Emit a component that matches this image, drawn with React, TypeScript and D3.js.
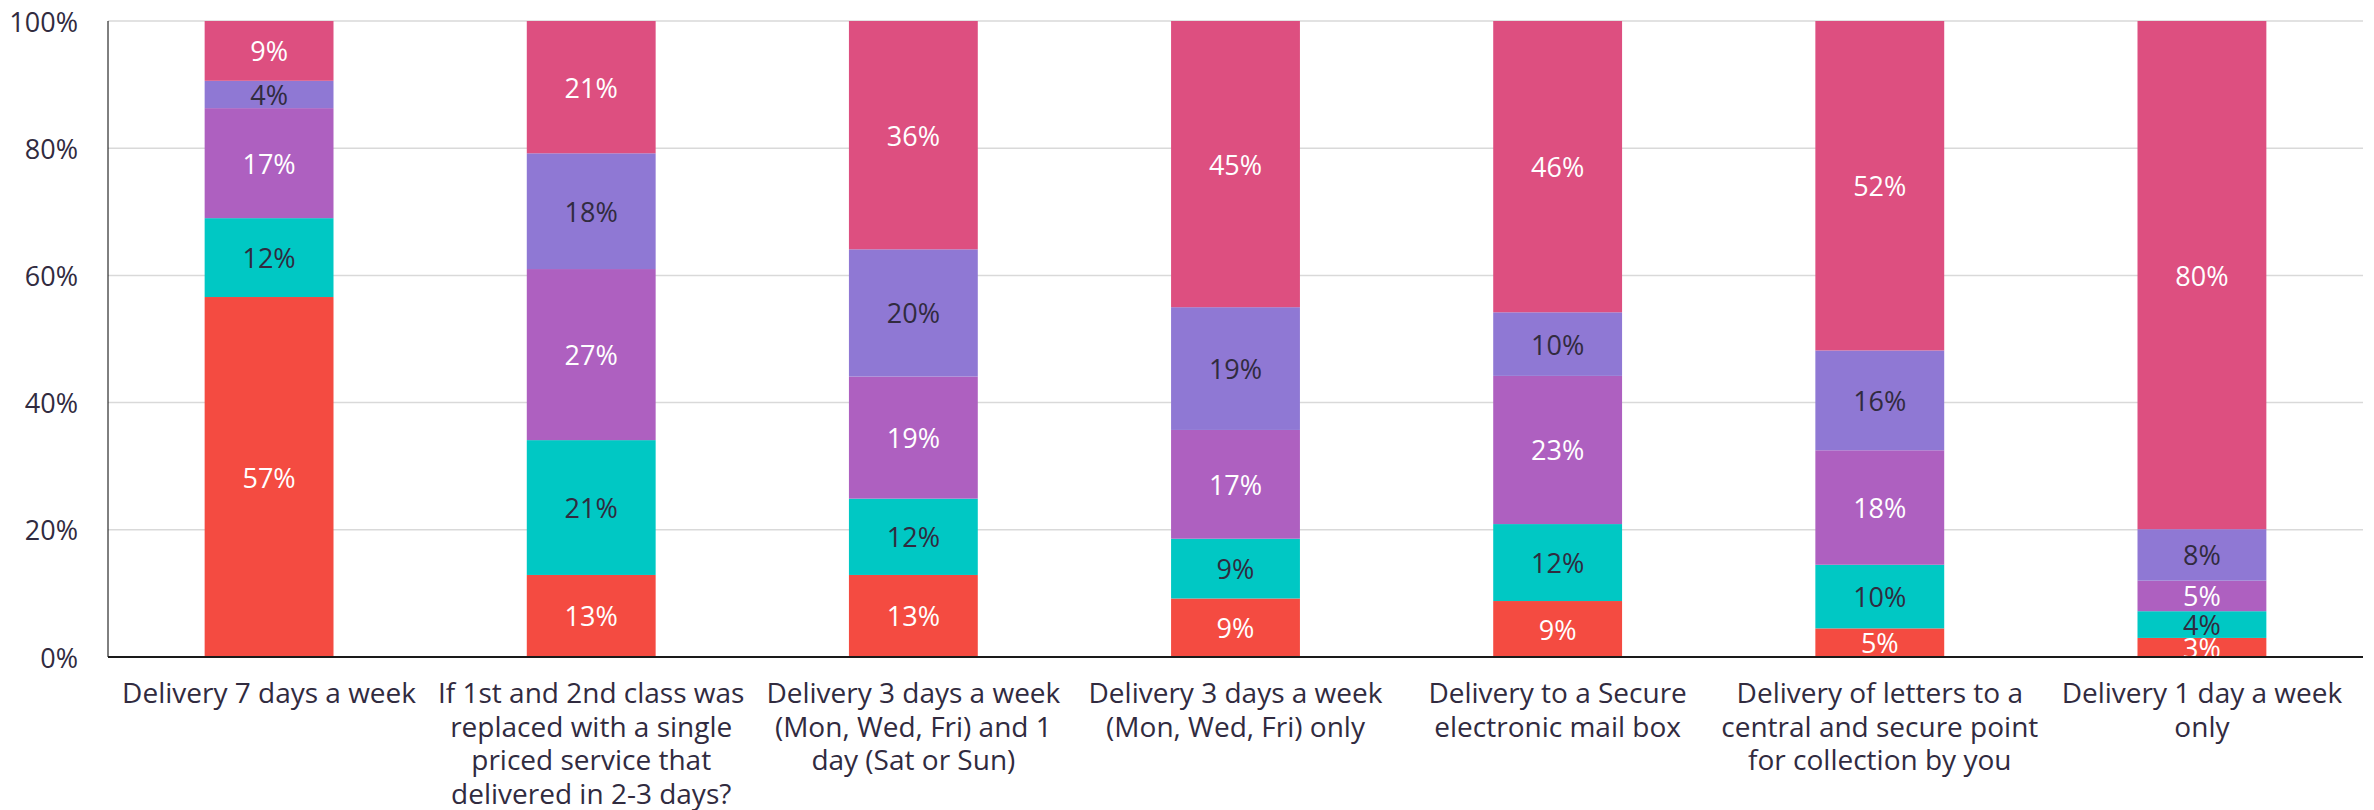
import React from "react";
import * as d3 from "d3";

// category labels, already broken into lines as in the source
const categories = [
  ["Delivery 7 days a week"],
  ["If 1st and 2nd class was", "replaced with a single", "priced service that", "delivered in 2-3 days?"],
  ["Delivery 3 days a week", "(Mon, Wed, Fri) and 1", "day (Sat or Sun)"],
  ["Delivery 3 days a week", "(Mon, Wed, Fri) only"],
  ["Delivery to a Secure", "electronic mail box"],
  ["Delivery of letters to a", "central and secure point", "for collection by you"],
  ["Delivery 1 day a week", "only"],
];

// stacked shares (%) bottom to top
const red = [56.6, 12.9, 12.9, 9.2, 8.8, 4.5, 3.0];
const teal = [12.4, 21.2, 12.0, 9.4, 12.1, 10.0, 4.2];
const purple = [17.3, 26.9, 19.2, 17.1, 23.3, 18.0, 4.8];
const lavender = [4.3, 18.2, 20.0, 19.3, 10.0, 15.7, 8.1];
const pink = [9.4, 20.8, 35.9, 45.0, 45.8, 51.8, 79.9];

const yTicks = [0, 20, 40, 60, 80, 100];

const seriesKeys = ["red", "teal", "purple", "lavender", "pink"];
const colors = ["#F44B41", "#00C8C4", "#AE60C0", "#8F78D4", "#DD4F80"];
const labelColors = ["#ffffff", "#312B3F", "#ffffff", "#312B3F", "#ffffff"];

const width = 2374;
const height = 810;
const margin = { top: 21, right: 11, bottom: 153, left: 108 };
const font = "'Open Sans', sans-serif";

export default function App() {
  const rows = categories.map((c, i) => ({
    idx: i,
    red: red[i],
    teal: teal[i],
    purple: purple[i],
    lavender: lavender[i],
    pink: pink[i],
  }));

  const stack = d3.stack<any>().keys(seriesKeys)(rows);

  const x = d3
    .scaleBand<number>()
    .domain(categories.map((_, i) => i))
    .range([margin.left, width - margin.right])
    .paddingInner(0.6)
    .paddingOuter(0.3);

  const y = d3
    .scaleLinear()
    .domain([0, 100])
    .range([height - margin.bottom, margin.top]);

  return (
    <svg
      width={width}
      height={height}
      style={{ position: "absolute", left: 0, top: 0, background: "#fff" }}
      fontFamily={font}
    >
      {/* gridlines */}
      {yTicks.map((t) => (
        <line
          key={"g" + t}
          x1={margin.left}
          x2={width - margin.right}
          y1={y(t)}
          y2={y(t)}
          stroke="#D9D9D9"
          strokeWidth={1.5}
        />
      ))}

      {/* y tick labels */}
      {yTicks.map((t) => (
        <text
          key={"t" + t}
          x={margin.left - 30}
          y={y(t)}
          textAnchor="end"
          dominantBaseline="central"
          fontSize={27}
          fill="#312B3F"
        >
          {t}%
        </text>
      ))}

      {/* bars */}
      {stack.map((s, si) => (
        <g key={s.key} fill={colors[si]}>
          {s.map((d, i) => (
            <rect
              key={i}
              x={x(i)}
              y={y(d[1])}
              width={x.bandwidth()}
              height={y(d[0]) - y(d[1])}
            />
          ))}
        </g>
      ))}

      {/* value labels */}
      {stack.map((s, si) => (
        <g key={"l" + s.key} fill={labelColors[si]} fontSize={27} textAnchor="middle">
          {s.map((d, i) => (
            <text
              key={i}
              x={(x(i) as number) + x.bandwidth() / 2}
              y={(y(d[0]) + y(d[1])) / 2}
              dominantBaseline="central"
            >
              {Math.round(d[1] - d[0])}%
            </text>
          ))}
        </g>
      ))}

      {/* axes */}
      <line
        x1={margin.left}
        x2={margin.left}
        y1={margin.top}
        y2={y(0)}
        stroke="#000"
        strokeWidth={1}
      />
      <line
        x1={margin.left}
        x2={width - margin.right}
        y1={y(0)}
        y2={y(0)}
        stroke="#1a1a1a"
        strokeWidth={2}
      />

      {/* category labels */}
      {categories.map((lines, i) => (
        <text
          key={"c" + i}
          x={(x(i) as number) + x.bandwidth() / 2}
          textAnchor="middle"
          fontSize={28}
          fill="#312B3F"
        >
          {lines.map((ln, li) => (
            <tspan
              key={li}
              x={(x(i) as number) + x.bandwidth() / 2}
              y={y(0) + 46 + li * 33.5}
            >
              {ln}
            </tspan>
          ))}
        </text>
      ))}
    </svg>
  );
}
